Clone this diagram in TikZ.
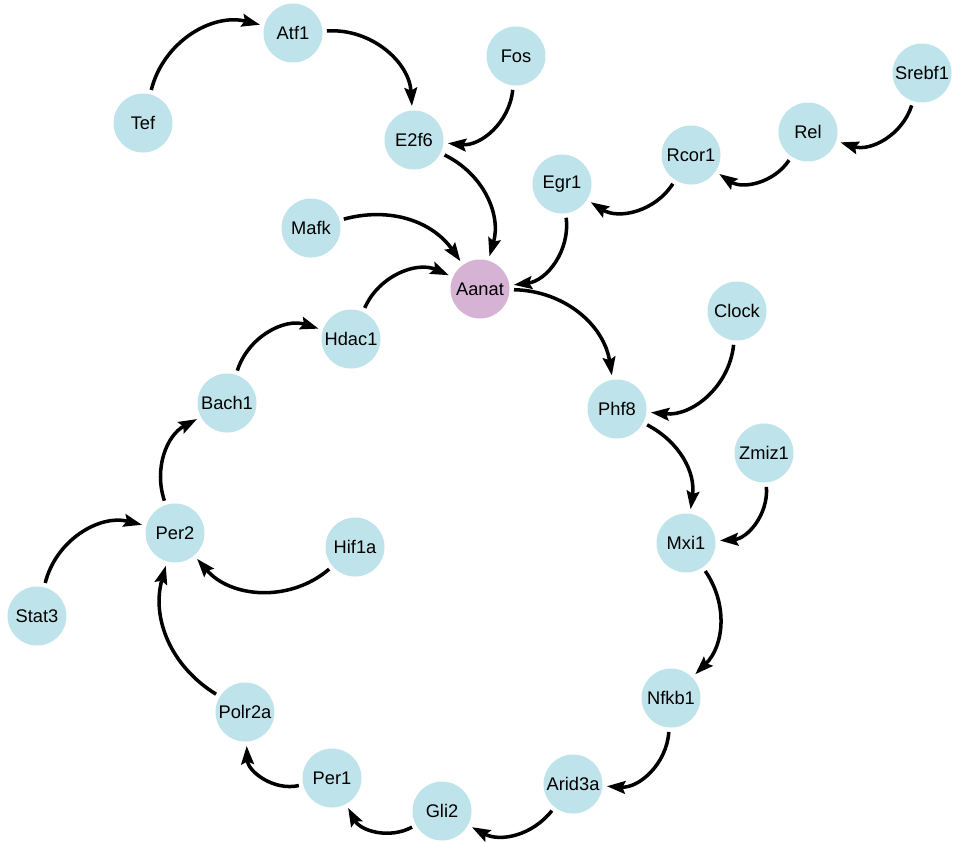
\documentclass[tikz,border=0pt]{standalone}
\usepackage{fontspec}
\setmainfont{Liberation Sans}
\usetikzlibrary{arrows.meta}
\definecolor{nodeblue}{HTML}{BFE3EA}
\definecolor{nodepink}{HTML}{D6B3D5}
\begin{document}
\begin{tikzpicture}[x=0.025cm,y=-0.025cm,
  gene/.style={circle,fill=nodeblue,draw=none,minimum size=59*0.025cm,inner sep=0pt,outer sep=4.5*0.025cm,
     font=\fontsize{13}{15}\selectfont},
  hub/.style={gene,fill=nodepink},
  link/.style={line width=2.5pt,black,-{Stealth[length=13pt,width=9pt,inset=2pt]},bend left=#1},
  link/.default=40]
\useasboundingbox (0,0) rectangle (957,841);
\node[gene] (Tef) at (143,123) {Tef};
\node[gene] (Atf1) at (293,33) {Atf1};
\node[gene] (Fos) at (516,56) {Fos};
\node[gene] (E2f6) at (414,140) {E2f6};
\node[gene] (Srebf1) at (922,73) {Srebf1};
\node[gene] (Rel) at (808,132) {Rel};
\node[gene] (Rcor1) at (691,155) {Rcor1};
\node[gene] (Egr1) at (562,184) {Egr1};
\node[gene] (Mafk) at (311,228) {Mafk};
\node[hub]  (Aanat) at (480,289) {Aanat};
\node[gene] (Clock) at (737,311) {Clock};
\node[gene] (Hdac1) at (351,339) {Hdac1};
\node[gene] (Bach1) at (227,403) {Bach1};
\node[gene] (Phf8) at (617,409) {Phf8};
\node[gene] (Zmiz1) at (764,453) {Zmiz1};
\node[gene] (Per2) at (175,533) {Per2};
\node[gene] (Hif1a) at (355,547) {Hif1a};
\node[gene] (Mxi1) at (686,543) {Mxi1};
\node[gene] (Stat3) at (37,616) {Stat3};
\node[gene] (Nfkb1) at (671,698) {Nfkb1};
\node[gene] (Polr2a) at (245,712) {Polr2a};
\node[gene] (Per1) at (332,778) {Per1};
\node[gene] (Arid3a) at (573,784) {Arid3a};
\node[gene] (Gli2) at (442,811) {Gli2};

\draw[link=45] (Tef) to (Atf1);
\draw[link=45] (Atf1) to (E2f6);
\draw[link=45] (Fos) to (E2f6);
\draw[link=40] (E2f6) to (Aanat);
\draw[link=35] (Mafk) to (Aanat);
\draw[link=45] (Egr1) to (Aanat);
\draw[link=45] (Hdac1) to (Aanat);
\draw[link=40] (Aanat) to (Phf8);
\draw[link=45] (Clock) to (Phf8);
\draw[link=35] (Phf8) to (Mxi1);
\draw[link=45] (Zmiz1) to (Mxi1);
\draw[link=40] (Mxi1) to (Nfkb1);
\draw[link=45] (Nfkb1) to (Arid3a);
\draw[link=40] (Arid3a) to (Gli2);
\draw[link=45] (Gli2) to (Per1);
\draw[link=50] (Per1) to (Polr2a);
\draw[link=37] (Polr2a) to (Per2);
\draw[link=45] (Hif1a) to (Per2);
\draw[link=45] (Stat3) to (Per2);
\draw[link=40] (Per2) to (Bach1);
\draw[link=45] (Bach1) to (Hdac1);
\draw[link=45] (Srebf1) to (Rel);
\draw[link=45] (Rel) to (Rcor1);
\draw[link=45] (Rcor1) to (Egr1);
\end{tikzpicture}
\end{document}
